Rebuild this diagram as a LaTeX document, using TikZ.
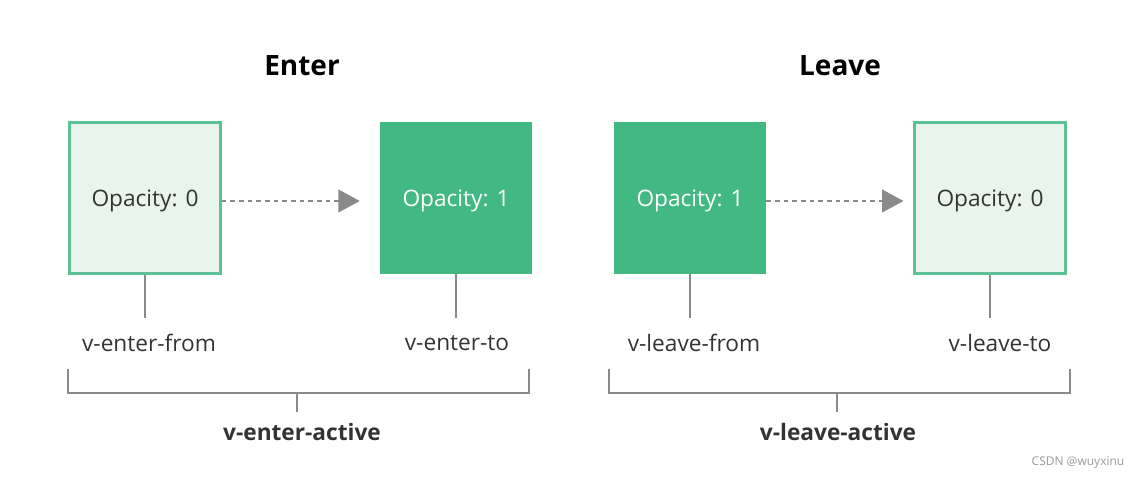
\documentclass[tikz,border=0pt]{standalone}
\usepackage{fontspec}
\setmainfont{Open Sans}
\usetikzlibrary{arrows.meta}

\definecolor{vuegreen}{HTML}{42B883}
\definecolor{palegreen}{HTML}{E9F5EC}
\definecolor{edgegreen}{HTML}{5CC294}
\definecolor{linegray}{HTML}{999999}
\definecolor{textgray}{HTML}{333333}

\tikzset{
  lightbox/.style={draw=edgegreen, line width=1.8pt, fill=palegreen,
    minimum size=113pt, inner sep=0pt, text depth=0pt, text=textgray,
    font=\fontsize{17}{20}\selectfont},
  solidbox/.style={fill=vuegreen, minimum size=114pt, inner sep=0pt,
    text depth=0pt, text=white, font=\fontsize{17}{20}\selectfont},
  fade/.style={draw=linegray!90!black, line width=1.6pt, dash pattern=on 3.5pt off 3pt,
    -{Triangle[length=16pt,width=17pt]}},
  stem/.style={draw=linegray!90!black, line width=1.4pt},
  classname/.style={text=textgray, font=\fontsize{17}{20}\selectfont},
  phase/.style={text=black, font=\fontsize{21}{25}\selectfont\bfseries},
  activename/.style={text=textgray, font=\fontsize{17}{20}\selectfont\bfseries}
}

\begin{document}
\begin{tikzpicture}[x=0.75pt,y=-0.75pt]
    \useasboundingbox (0,0) rectangle (1139,479);

    % Titles
    \node[phase] (enter) at (302,66) {Enter};
    \node[phase] (leave) at (840,66) {Leave};

    % Enter boxes
    \node[lightbox] (ef) at (145,198) {Opacity: 0};
    \node[solidbox] (et) at (456,198) {Opacity: 1};

    % Leave boxes
    \node[solidbox] (lf) at (690,198) {Opacity: 1};
    \node[lightbox] (lt) at (990,198) {Opacity: 0};

    % Transitions
    \draw[fade] ([yshift=-2.25pt]ef.east) -- ([xshift=-15pt,yshift=-2.25pt]et.west);
    \draw[fade] ([yshift=-2.25pt]lf.east) -- ([xshift=-7.5pt,yshift=-2.25pt]lt.west);

    % Class names
    \node[classname] (efn) at (149,343) {v-enter-from};
    \node[classname] (etn) at (457,343) {v-enter-to};
    \node[classname] (lfn) at (694,343) {v-leave-from};
    \node[classname] (ltn) at (1000,343) {v-leave-to};

    \draw[stem] (ef.south) -- (145,318);
    \draw[stem] (et.south) -- (456,318);
    \draw[stem] (lf.south) -- (690,318);
    \draw[stem] (lt.south) -- (990,318);

    % Active brackets
    \draw[stem] (68,369) -- (68,393) -- (529,393) -- (529,369);
    \draw[stem] (297,393) -- (297,412);
    \draw[stem] (609,369) -- (609,393) -- (1070,393) -- (1070,369);
    \draw[stem] (837,393) -- (837,412);

    \node[activename] (ea) at (302,432) {v-enter-active};
    \node[activename] (la) at (838,432) {v-leave-active};

    \node[text=linegray, font=\fontsize{9}{11}\selectfont] (mark) at (1078,463) {CSDN @wuyxinu};
\end{tikzpicture}
\end{document}
